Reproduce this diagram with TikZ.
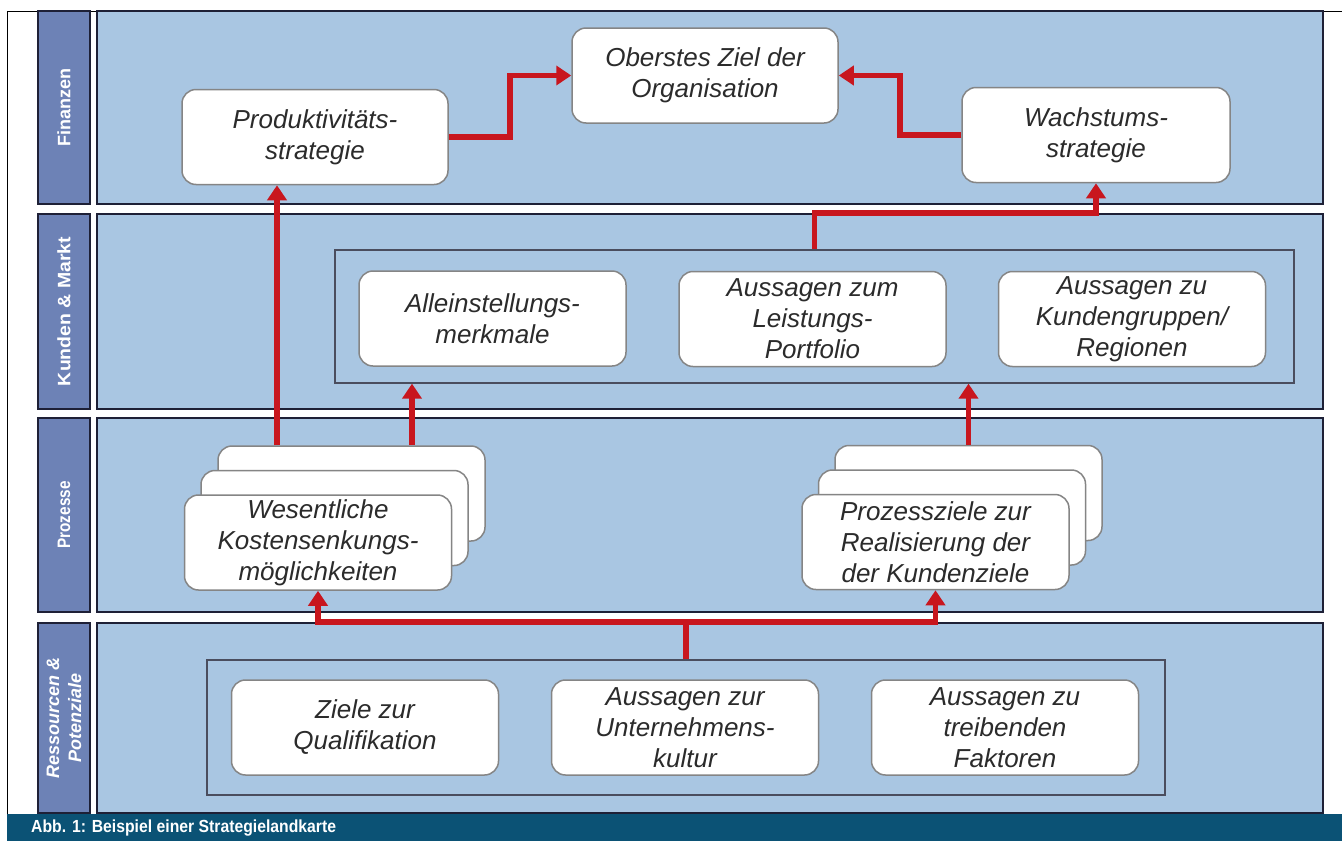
\documentclass[tikz,border=0pt]{standalone}
\usepackage{fontspec}
\usepackage{graphicx}
\setmainfont{Liberation Sans}
\usetikzlibrary{arrows.meta,calc}

\definecolor{panelblue}{HTML}{A9C6E2}
\definecolor{barblue}{HTML}{6D82B6}
\definecolor{edgedark}{HTML}{1E2036}
\definecolor{boxedge}{HTML}{858585}
\definecolor{frameedge}{HTML}{4A4D5E}
\definecolor{linkred}{HTML}{C8161E}
\definecolor{captionbg}{HTML}{0B5275}
\definecolor{textgray}{HTML}{2B2B2B}

\tikzset{
  panel/.style={draw=edgedark, line width=1.6pt, fill=panelblue, inner sep=0pt},
  lbar/.style={draw=edgedark, line width=1.6pt, fill=barblue, text=white,
    font=\fontsize{18}{22}\selectfont\bfseries, inner sep=0pt, align=center, rotate=90},
  goal/.style={draw=boxedge, line width=1.5pt, fill=white, rounded corners=14pt,
    minimum width=267pt, minimum height=95pt, inner sep=0pt, align=center,
    text=textgray, font=\fontsize{26}{31}\selectfont\itshape},
  group/.style={draw=frameedge, line width=1.3pt, inner sep=0pt},
  link/.style={draw=linkred, line width=5.5pt, -{Triangle[length=15pt,width=19pt]}},
}

\begin{document}
\begin{tikzpicture}[x=1pt, y=-1pt]
  \useasboundingbox (0,0) rectangle (1342,841);
  \fill[white] (0,0) rectangle (1342,841);

  % outer frame and caption bar
  \draw[line width=1pt, black] (7,814) -- (7,11) -- (1342,11);
  \fill[captionbg] (7,814) rectangle (1342,841);
  \node[anchor=west, text=white, inner sep=0pt,
        font=\fontsize{17.5}{20}\selectfont\bfseries] (caption) at (31,828)
        {\scalebox{0.9}[1]{Abb. 1: Beispiel einer Strategielandkarte}};

  % row labels
  \node[lbar, minimum width=193pt, minimum height=52pt] (l1) at (64,107.5) {Finanzen};
  \node[lbar, minimum width=195pt, minimum height=52pt] (l2) at (64,311.5) {\scalebox{1.08}[1]{Kunden \& Markt}};
  \node[lbar, minimum width=194pt, minimum height=52pt] (l3) at (64,515) {\scalebox{0.85}[1]{Prozesse}};
  \node[lbar, minimum width=190pt, minimum height=52pt, font=\fontsize{18}{22}\selectfont\bfseries\itshape]
        (l4) at (64,718) {Ressourcen \&\\Potenziale};

  % row panels
  \node[panel, minimum width=1226pt, minimum height=193pt] (p1) at (710,107.5) {};
  \node[panel, minimum width=1226pt, minimum height=195pt] (p2) at (710,311.5) {};
  \node[panel, minimum width=1226pt, minimum height=194pt] (p3) at (710,515) {};
  \node[panel, minimum width=1226pt, minimum height=190pt] (p4) at (710,718) {};

  % Finanzen
  \node[goal, minimum width=266pt] (ziel) at (705,75.5) {Oberstes Ziel der\\Organisation};
  \node[goal, minimum width=266pt] (prod) at (315,137) {Produktivitäts-\\strategie};
  \node[goal, minimum width=268pt] (wachs) at (1096,135) {Wachstums-\\strategie};

  % Kunden & Markt
  \node[group, minimum width=959pt, minimum height=133pt] (kframe) at (814.5,316.5) {};
  \node[goal] (usp) at (492.5,318.5) {Alleinstellungs-\\merkmale};
  \node[goal] (port) at (812.5,319) {Aussagen zum\\Leistungs-\\Portfolio};
  \node[goal] (kund) at (1132,319) {Aussagen zu\\Kundengruppen/\\Regionen};

  % Prozesse: stacked boxes
  \node[goal] (ls1) at (351.5,493.5) {};
  \node[goal] (ls2) at (334.5,518) {};
  \node[goal] (ls3) at (318,542.5) {Wesentliche\\Kostensenkungs-\\möglichkeiten};
  \node[goal] (rs1) at (968.5,493) {};
  \node[goal] (rs2) at (952,517.5) {};
  \node[goal] (rs3) at (935.5,542) {Prozessziele zur\\Realisierung der\\der Kundenziele};

  % Ressourcen & Potenziale
  \node[group, minimum width=958pt, minimum height=135pt] (rframe) at (686,727.5) {};
  \node[goal] (qual) at (365,727.5) {Ziele zur\\Qualifikation};
  \node[goal] (cult) at (685,727.5) {Aussagen zur\\Unternehmens-\\kultur};
  \node[goal] (fakt) at (1005,727.5) {Aussagen zu\\treibenden\\Faktoren};

  % connectors
  \coordinate (la) at ([xshift=-74.5pt]ls1.north);
  \coordinate (lb) at ([xshift=60.5pt]ls1.north);
  \coordinate (rj) at (rframe.north |- p4.north);

  \draw[link] (prod.east) -| ($(prod.east)!0.5!(ziel.west)$) |- (ziel.west);
  \draw[link] (wachs.west) -| ($(wachs.west)!0.5!(ziel.east)$) |- (ziel.east);
  \draw[link] (kframe.north) -- (kframe.north |- p2.north) -| (wachs.south);
  \draw[link] (la) -- (la |- prod.south);
  \draw[link] (lb) -- (lb |- kframe.south);
  \draw[link] (rs1.north) -- (rs1.north |- kframe.south);
  \draw[link] (rframe.north) -- (rj) -| (ls3.south);
  \draw[link] (rj) -| (rs3.south);
\end{tikzpicture}
\end{document}
